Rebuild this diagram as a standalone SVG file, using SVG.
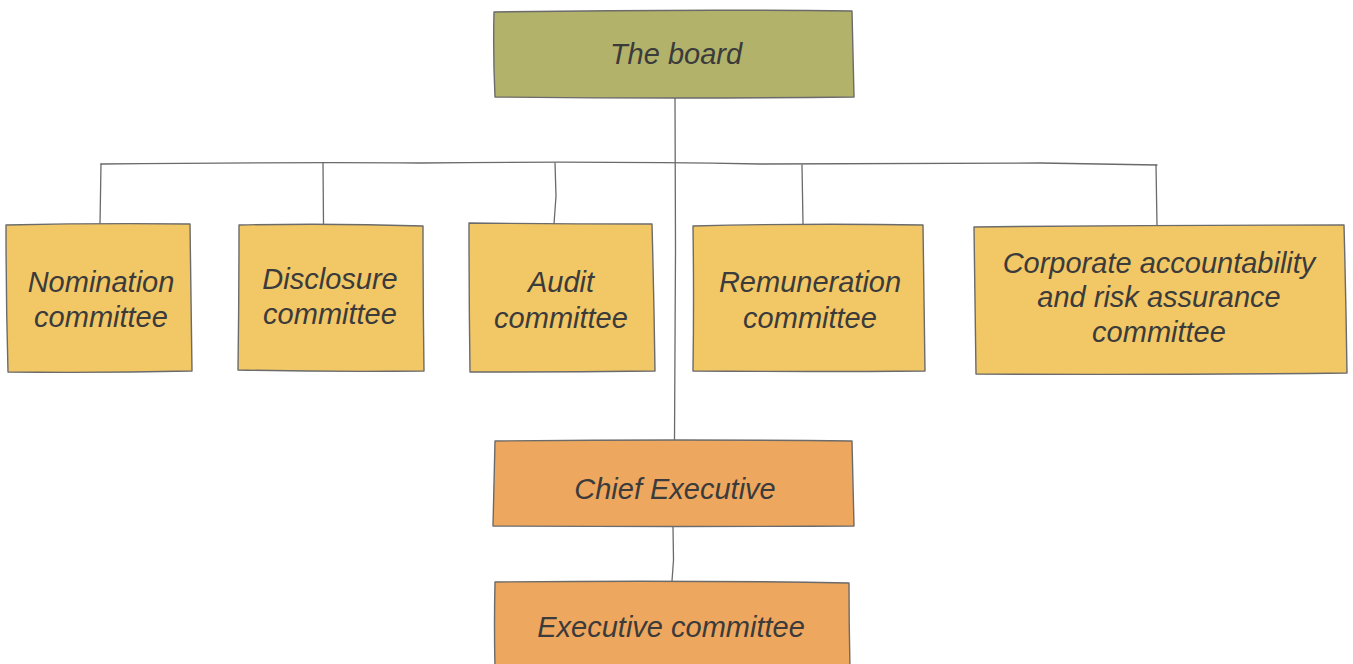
<svg xmlns="http://www.w3.org/2000/svg" width="1353" height="664" viewBox="0 0 1353 664">
  <style>
    .box { stroke: #6b6b6b; stroke-width: 1.4; stroke-linejoin: round; }
    .board { fill: #b2b26b; }
    .committee { fill: #f2c766; }
    .exec { fill: #eea75e; }
    .link { fill: none; stroke: #6a6a6a; stroke-width: 1.3; stroke-linecap: round; }
    .label { font-family: "Liberation Sans", "DejaVu Sans", sans-serif; font-style: italic; font-size: 29px; fill: #3b3b3b; text-anchor: middle; }
  </style>

  <rect width="1353" height="664" fill="#ffffff"/>

  <!-- connectors -->
  <g id="connectors">
    <path class="link" d="M675 97 L675.5 250 L674.5 440"/>
    <path class="link" d="M101 164 Q300 162 420 163 Q600 161 760 164 Q960 163 1040 163 L1157 165"/>
    <path class="link" d="M101 164 L100 224"/>
    <path class="link" d="M323 163 L323.5 224"/>
    <path class="link" d="M555 163 L556 196 L554 224"/>
    <path class="link" d="M802 165 L803 224"/>
    <path class="link" d="M1156 165 L1157 226"/>
    <path class="link" d="M673 527 L673.5 560 L672 581"/>
  </g>

  <!-- top level -->
  <g id="node-board">
    <path class="box board" d="M494 12 Q680 9 852 11 Q853 50 854 97 Q680 99 495 97 Q493 55 494 12 Z"/>
    <text class="label" x="676" y="64" font-size="31">The board</text>
  </g>

  <!-- committees -->
  <g id="node-nomination">
    <path class="box committee" d="M6 225 Q100 223 190 224 Q191 300 192 371 Q100 373 8 372 Q6 300 6 225 Z"/>
    <text class="label" x="101" y="292">Nomination</text>
    <text class="label" x="101" y="327">committee</text>
  </g>

  <g id="node-disclosure">
    <path class="box committee" d="M239 225 Q330 223 423 226 Q423 300 424 371 Q330 372 238 370 Q239 300 239 225 Z"/>
    <text class="label" x="330" y="289">Disclosure</text>
    <text class="label" x="330" y="324">committee</text>
  </g>

  <g id="node-audit">
    <path class="box committee" d="M469 223 Q560 224 652 224 Q654 300 655 371 Q560 372 470 372 Q469 300 469 223 Z"/>
    <text class="label" x="561" y="292">Audit</text>
    <text class="label" x="561" y="328">committee</text>
  </g>

  <g id="node-remuneration">
    <path class="box committee" d="M693 226 Q810 223 923 225 Q924 300 925 371 Q810 372 693 371 Q694 300 693 226 Z"/>
    <text class="label" x="810" y="292">Remuneration</text>
    <text class="label" x="810" y="328">committee</text>
  </g>

  <g id="node-corporate">
    <path class="box committee" d="M974 227 Q1160 225 1344 225 Q1346 300 1347 373 Q1160 375 976 374 Q975 300 974 227 Z"/>
    <text class="label" x="1159" y="273">Corporate accountability</text>
    <text class="label" x="1159" y="307">and risk assurance</text>
    <text class="label" x="1159" y="342">committee</text>
  </g>

  <!-- executive line -->
  <g id="node-chief-executive">
    <path class="box exec" d="M495 441 Q680 439 852 441 Q853 485 854 526 Q680 527 493 526 Q494 485 495 441 Z"/>
    <text class="label" x="675" y="499">Chief Executive</text>
  </g>

  <g id="node-executive-committee">
    <path class="box exec" d="M495 582 Q680 580 849 583 Q849 625 850 668 L495 668 Q494 625 495 582 Z"/>
    <text class="label" x="671" y="637">Executive committee</text>
  </g>
</svg>
